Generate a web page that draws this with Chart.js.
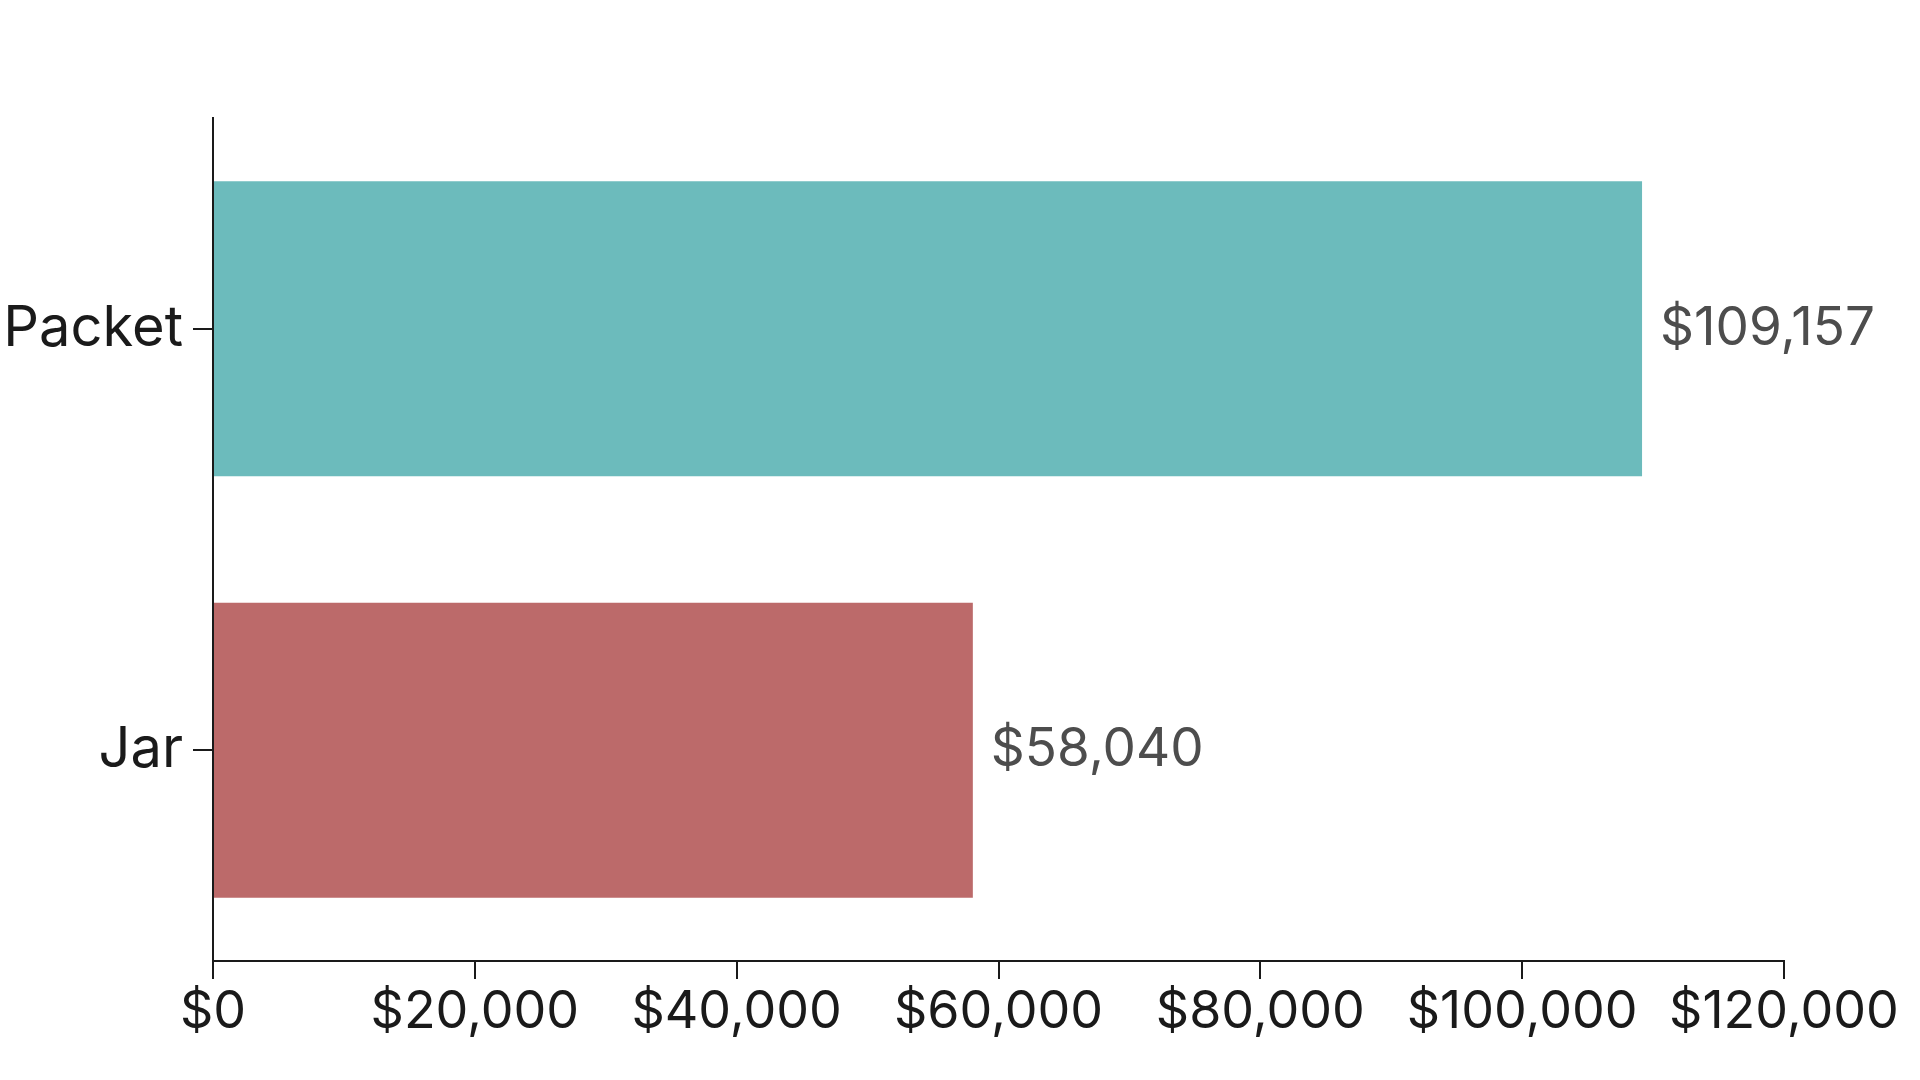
<!DOCTYPE html>
<html>
<head>
<meta charset="utf-8">
<script src="https://cdn.jsdelivr.net/npm/chart.js@4"></script>
<style>
  html, body { margin: 0; padding: 0; background: #fff; }
  #wrap { width: 1920px; height: 1080px; }
</style>
</head>
<body>
<div id="wrap"><canvas id="myChart" width="1920" height="1080"></canvas></div>
<script>
const categories = ['Packet', 'Jar'];
const revenue = [109157, 58040];
const barColors = ['#6cbbbc', '#bc6a6a'];
const tickValues = [0, 20000, 40000, 60000, 80000, 100000, 120000];

const money = v => '$' + Number(v).toLocaleString('en-US');
const FONT = 'Inter, "Open Sans", sans-serif';

// draws value labels just right of each bar
const valueLabels = {
  id: 'valueLabels',
  afterDatasetsDraw(chart) {
    const ctx = chart.ctx;
    const meta = chart.getDatasetMeta(0);
    ctx.save();
    ctx.font = '53px ' + FONT;
    ctx.fillStyle = '#4d4d4d';
    ctx.textAlign = 'left';
    ctx.textBaseline = 'middle';
    meta.data.forEach((bar, i) => {
      ctx.fillText(money(revenue[i]), bar.x + 18, bar.y);
    });
    ctx.restore();
  }
};

Chart.defaults.font.family = FONT;
Chart.defaults.font.size = 52;
Chart.defaults.color = '#1a1a1a';

new Chart(document.getElementById('myChart'), {
  type: 'bar',
  data: {
    labels: categories,
    datasets: [{
      data: revenue,
      backgroundColor: barColors,
      borderWidth: 0,
      barPercentage: 0.7,
      categoryPercentage: 1
    }]
  },
  options: {
    indexAxis: 'y',
    responsive: false,
    animation: false,
    devicePixelRatio: 1,
    layout: { padding: { top: 118, right: 136, left: 0, bottom: 0 } },
    plugins: {
      legend: { display: false },
      tooltip: { enabled: false }
    },
    scales: {
      x: {
        min: 0,
        max: 120000,
        afterBuildTicks: scale => { scale.ticks = tickValues.map(v => ({ value: v })); },
        afterFit: scale => { scale.height = 119; },
        border: { display: true, color: '#1a1a1a', width: 2 },
        grid: { display: true, drawOnChartArea: false, drawTicks: true, tickLength: 18, color: '#1a1a1a', lineWidth: 2 },
        ticks: { padding: 2, maxRotation: 0, autoSkip: false, callback: v => money(v) }
      },
      y: {
        afterFit: scale => { scale.width = 213; },
        border: { display: true, color: '#1a1a1a', width: 2 },
        grid: { display: true, offset: false, drawOnChartArea: false, drawTicks: true, tickLength: 20, color: '#1a1a1a', lineWidth: 2 },
        ticks: { padding: 10, font: { size: 56 } }
      }
    }
  },
  plugins: [valueLabels]
});
</script>
</body>
</html>
